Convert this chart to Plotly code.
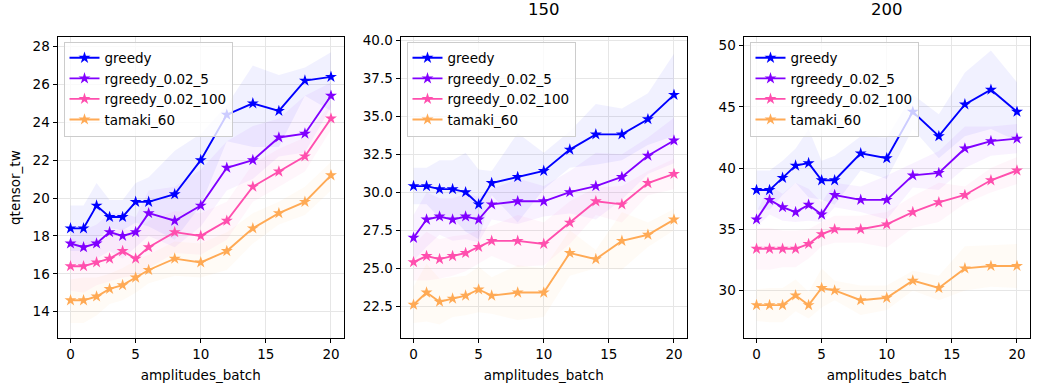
import plotly.graph_objects as go

x_vals = [0, 1, 2, 3, 4, 5, 6, 8, 10, 12, 14, 16, 18, 20]
series_names = ["greedy", "rgreedy_0.02_5", "rgreedy_0.02_100", "tamaki_60"]
panel_titles = ["", "150", "200"]

# panel 1 (no title)
p1_mean = [
    [18.4, 18.4, 19.6, 19.0, 19.0, 19.8, 19.8, 20.2, 22.0, 24.4, 25.0, 24.6, 26.2, 26.4],
    [17.6, 17.4, 17.6, 18.2, 18.0, 18.2, 19.2, 18.8, 19.6, 21.6, 22.0, 23.2, 23.4, 25.4],
    [16.4, 16.4, 16.6, 16.8, 17.2, 16.8, 17.4, 18.2, 18.0, 18.8, 20.6, 21.4, 22.2, 24.2],
    [14.6, 14.6, 14.8, 15.2, 15.4, 15.8, 16.2, 16.8, 16.6, 17.2, 18.4, 19.2, 19.8, 21.2],
]
p1_upper = [
    [19.6, 19.6, 20.8, 19.9, 19.9, 20.8, 21.1, 22.5, 23.4, 24.9, 27.0, 26.5, 26.9, 27.7],
    [18.5, 18.3, 18.6, 19.2, 19.2, 19.0, 20.4, 20.6, 21.5, 23.0, 23.8, 24.2, 25.4, 26.1],
    [17.9, 17.6, 17.8, 18.2, 18.4, 18.2, 18.8, 19.3, 19.2, 19.8, 21.8, 22.6, 23.2, 25.0],
    [15.7, 15.8, 15.8, 16.0, 16.3, 16.7, 17.0, 17.7, 17.6, 18.2, 19.2, 19.8, 20.6, 21.9],
]
p1_lower = [
    [17.2, 17.2, 17.8, 18.4, 18.3, 18.7, 18.5, 17.8, 19.6, 23.0, 22.7, 22.7, 25.4, 24.6],
    [16.6, 16.4, 16.8, 17.2, 16.8, 17.4, 18.0, 17.4, 18.5, 20.4, 21.0, 22.2, 22.4, 24.8],
    [15.1, 15.0, 15.4, 15.6, 15.8, 15.9, 16.3, 17.1, 17.0, 17.8, 19.8, 20.6, 21.4, 23.6],
    [13.4, 13.4, 13.8, 14.4, 14.6, 15.0, 15.5, 15.9, 15.8, 16.2, 17.6, 18.6, 19.1, 20.4],
]

# panel 2 ("150")
p2_mean = [
    [30.4, 30.4, 30.2, 30.2, 30.0, 29.2, 30.6, 31.0, 31.4, 32.8, 33.8, 33.8, 34.8, 36.4],
    [27.0, 28.2, 28.4, 28.2, 28.4, 28.2, 29.2, 29.4, 29.4, 30.0, 30.4, 31.0, 32.4, 33.4],
    [25.4, 25.8, 25.6, 25.8, 26.0, 26.4, 26.8, 26.8, 26.6, 28.0, 29.4, 29.2, 30.6, 31.2],
    [22.6, 23.4, 22.8, 23.0, 23.2, 23.6, 23.2, 23.4, 23.4, 26.0, 25.6, 26.8, 27.2, 28.2],
]
p2_upper = [
    [31.6, 31.6, 32.1, 32.1, 32.6, 31.5, 31.4, 33.9, 32.6, 34.0, 35.8, 35.5, 36.5, 39.1],
    [28.5, 30.0, 29.6, 29.6, 29.9, 29.7, 30.2, 30.9, 30.4, 31.4, 32.6, 32.5, 33.6, 34.9],
    [26.6, 27.4, 26.9, 27.1, 27.2, 27.5, 27.8, 28.5, 28.0, 29.4, 30.3, 30.4, 31.4, 32.2],
    [23.8, 25.3, 24.3, 24.4, 24.5, 25.1, 24.4, 25.2, 25.0, 27.5, 26.2, 28.7, 28.0, 28.9],
]
p2_lower = [
    [29.2, 29.2, 28.3, 28.3, 27.4, 26.9, 29.8, 28.0, 30.2, 31.6, 31.8, 32.1, 33.1, 33.7],
    [25.5, 26.4, 27.2, 26.8, 26.9, 26.7, 28.2, 27.9, 28.4, 28.6, 28.2, 29.5, 31.2, 31.9],
    [24.2, 24.2, 24.3, 24.5, 24.8, 25.3, 25.8, 25.1, 25.2, 26.6, 28.5, 28.0, 29.8, 30.2],
    [21.4, 21.5, 21.3, 21.8, 21.9, 22.1, 22.0, 21.6, 21.8, 24.5, 25.0, 24.9, 26.4, 27.5],
]

# panel 3 ("200")
p3_mean = [
    [38.2, 38.2, 39.2, 40.2, 40.4, 39.0, 39.0, 41.2, 40.8, 44.6, 42.6, 45.2, 46.4, 44.6],
    [35.8, 37.4, 36.8, 36.4, 37.0, 36.2, 37.8, 37.4, 37.4, 39.4, 39.6, 41.6, 42.2, 42.4],
    [33.4, 33.4, 33.4, 33.4, 33.8, 34.6, 35.0, 35.0, 35.4, 36.4, 37.2, 37.8, 39.0, 39.8],
    [28.8, 28.8, 28.8, 29.6, 28.8, 30.2, 30.0, 29.2, 29.4, 30.8, 30.2, 31.8, 32.0, 32.0],
]
p3_upper = [
    [39.8, 39.8, 40.6, 41.6, 43.2, 40.6, 41.0, 42.6, 42.5, 46.0, 44.4, 47.8, 49.6, 47.0],
    [36.4, 38.6, 37.9, 38.8, 38.3, 37.2, 38.8, 38.5, 39.4, 40.4, 41.4, 43.4, 43.4, 43.6],
    [35.1, 35.1, 34.9, 34.9, 35.0, 35.6, 36.1, 36.1, 36.4, 37.7, 38.8, 38.5, 40.0, 40.9],
    [30.1, 30.2, 30.2, 30.9, 29.9, 31.8, 30.8, 30.4, 30.4, 31.6, 31.2, 33.6, 33.7, 33.8],
]
p3_lower = [
    [36.6, 36.6, 37.8, 38.8, 37.6, 37.4, 37.0, 39.8, 39.1, 43.2, 40.8, 42.6, 43.2, 42.2],
    [35.2, 36.2, 35.7, 35.6, 35.7, 35.6, 36.8, 36.4, 35.8, 38.4, 38.2, 40.0, 41.0, 41.2],
    [31.7, 31.7, 31.9, 31.9, 32.6, 33.6, 33.9, 33.9, 33.5, 35.1, 35.6, 37.1, 38.0, 38.7],
    [27.5, 27.4, 27.4, 28.3, 27.7, 28.6, 29.2, 28.0, 28.4, 30.0, 29.2, 30.0, 30.3, 30.2],
]

y_ranges = [[12.6, 28.5], [20.4, 40.2], [26.1, 50.7]]
y_ticks = [[14, 16, 18, 20, 22, 24, 26, 28],
           [22.5, 25.0, 27.5, 30.0, 32.5, 35.0, 37.5, 40.0],
           [30, 35, 40, 45, 50]]

colors = ["#0000ff", "#8000ff", "#ff4fae", "#ffaa55"]
fills = ["rgba(0,0,255,0.055)", "rgba(128,0,255,0.05)",
         "rgba(255,79,174,0.05)", "rgba(255,170,85,0.05)"]

W, H = 1039, 390
x_doms = [(57.5, 344), (400.5, 687), (743.5, 1030)]
y_dom = [1 - 337.5 / H, 1 - 32.5 / H]

panels = [(p1_mean, p1_upper, p1_lower), (p2_mean, p2_upper, p2_lower), (p3_mean, p3_upper, p3_lower)]

fig = go.Figure()
font = "DejaVu Sans"
fs = 13.5

for p, (means, ups, lows) in enumerate(panels):
    xa = "x" if p == 0 else f"x{p+1}"
    ya = "y" if p == 0 else f"y{p+1}"
    leg = "legend" if p == 0 else f"legend{p+1}"
    # shaded bands first
    for i in range(4):
        fig.add_trace(go.Scatter(x=x_vals + x_vals[::-1], y=ups[i] + lows[i][::-1],
                                 fill="toself", fillcolor=fills[i], mode="lines",
                                 line=dict(width=0), hoverinfo="skip", showlegend=False,
                                 xaxis=xa, yaxis=ya))
    for i in range(4):
        fig.add_trace(go.Scatter(x=x_vals, y=means[i], mode="lines+markers",
                                 name=series_names[i], legend=leg,
                                 line=dict(color=colors[i], width=1.9),
                                 marker=dict(symbol="star", size=9, color=colors[i]),
                                 xaxis=xa, yaxis=ya))

axis_common = dict(showline=True, linecolor="black", linewidth=1, mirror=True,
                   ticks="outside", ticklen=4, tickcolor="black",
                   showgrid=True, gridcolor="#e6e6e6", gridwidth=1, zeroline=False,
                   tickfont=dict(family=font, size=fs, color="black"))

layout = dict(width=W, height=H, margin=dict(l=0, r=0, t=0, b=0),
              paper_bgcolor="white", plot_bgcolor="white",
              font=dict(family=font, size=fs, color="black"))

for p in range(3):
    xk = "xaxis" if p == 0 else f"xaxis{p+1}"
    yk = "yaxis" if p == 0 else f"yaxis{p+1}"
    layout[xk] = dict(domain=[x_doms[p][0] / W, x_doms[p][1] / W], range=[-1, 21],
                      tickvals=[0, 5, 10, 15, 20], anchor="y" if p == 0 else f"y{p+1}",
                      title=dict(text="amplitudes_batch", font=dict(family=font, size=fs), standoff=9),
                      **axis_common)
    layout[yk] = dict(domain=y_dom, range=y_ranges[p], tickvals=y_ticks[p],
                      tickformat=".1f" if p == 1 else "d",
                      anchor="x" if p == 0 else f"x{p+1}", **axis_common)
    lk = "legend" if p == 0 else f"legend{p+1}"
    layout[lk] = dict(x=(x_doms[p][0] + 6) / W, y=1 - 37 / H, xanchor="left", yanchor="top",
                      bgcolor="rgba(255,255,255,0.8)", bordercolor="#cccccc", borderwidth=1,
                      font=dict(family=font, size=fs), tracegroupgap=0, itemwidth=30)

layout["yaxis"]["title"] = dict(text="qtensor_tw", font=dict(family=font, size=fs), standoff=8)

fig.update_layout(**layout)

for p in range(1, 3):
    fig.add_annotation(text=panel_titles[p], xref="paper", yref="paper",
                       x=(x_doms[p][0] + x_doms[p][1]) / 2 / W, y=1 - 5 / H,
                       xanchor="center", yanchor="middle", showarrow=False,
                       font=dict(family=font, size=16.5, color="black"))

fig.write_html("out.html", config={"displayModeBar": False},
               post_script="document.body.style.margin='0';")
